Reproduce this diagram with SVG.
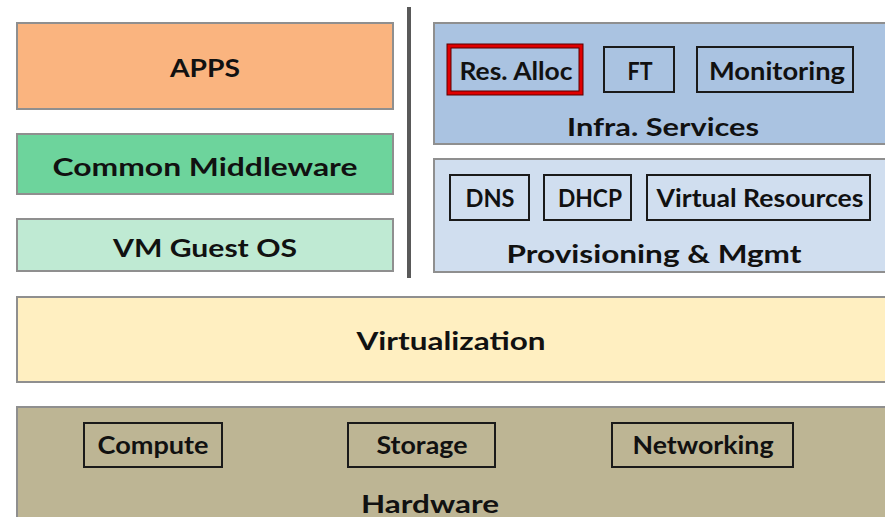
<svg xmlns="http://www.w3.org/2000/svg" width="885" height="517" viewBox="0 0 885 517">
<style>
text{font-family:Lato,"Open Sans","Liberation Sans",sans-serif;font-weight:bold;font-size:25px;fill:#111;text-anchor:middle}
.layer{stroke:#8f8f8f;stroke-width:2}
.box{fill:none;stroke:#1a1a1a;stroke-width:2}
</style>
<rect width="885" height="517" fill="#fff"/>
<g id="apps"><rect class="layer" x="17" y="23" width="376" height="86" fill="#FAB47F"/><text x="205" y="77" textLength="70" lengthAdjust="spacingAndGlyphs">APPS</text></g>
<g id="middleware"><rect class="layer" x="17" y="134" width="376" height="60" fill="#6DD49C"/><text x="205" y="176" textLength="305" lengthAdjust="spacingAndGlyphs">Common Middleware</text></g>
<g id="guestos"><rect class="layer" x="17" y="219" width="376" height="52" fill="#BFEAD3"/><text x="205" y="257" textLength="184" lengthAdjust="spacingAndGlyphs">VM Guest OS</text></g>
<g id="divider"><line x1="409" y1="7" x2="409" y2="278" stroke="#595959" stroke-width="4"/></g>
<g id="infra">
<rect class="layer" x="434" y="23" width="460" height="121" fill="#AAC3E1"/>
<text x="663" y="136" textLength="192" lengthAdjust="spacingAndGlyphs">Infra. Services</text>
</g>
<g id="resalloc"><rect x="449" y="46" width="132" height="47" fill="none" stroke="#5a0000" stroke-width="5"/><rect x="449" y="46" width="132" height="47" fill="none" stroke="#e00000" stroke-width="3"/><text x="516" y="80" textLength="113" lengthAdjust="spacingAndGlyphs">Res. Alloc</text></g>
<g id="ft"><rect class="box" x="604" y="47" width="70" height="45"/><text x="640" y="80" textLength="25" lengthAdjust="spacingAndGlyphs">FT</text></g>
<g id="monitoring"><rect class="box" x="697" y="47" width="156" height="45"/><text x="777" y="80" textLength="136" lengthAdjust="spacingAndGlyphs">Monitoring</text></g>
<g id="prov">
<rect class="layer" x="434" y="159" width="460" height="113" fill="#D0DEEF"/>
<text x="654" y="263" textLength="295" lengthAdjust="spacingAndGlyphs">Provisioning &amp; Mgmt</text>
</g>
<g id="dns"><rect class="box" x="450" y="175" width="79" height="45"/><text x="490" y="207" textLength="49" lengthAdjust="spacingAndGlyphs">DNS</text></g>
<g id="dhcp"><rect class="box" x="544" y="175" width="87" height="45"/><text x="590" y="207" textLength="64" lengthAdjust="spacingAndGlyphs">DHCP</text></g>
<g id="vres"><rect class="box" x="647" y="175" width="223" height="45"/><text x="760" y="207" textLength="207" lengthAdjust="spacingAndGlyphs">Virtual Resources</text></g>
<g id="virtualization"><rect class="layer" x="17" y="297" width="880" height="85" fill="#FFEFC1"/><text x="451" y="350" textLength="189" lengthAdjust="spacingAndGlyphs">Virtualization</text></g>
<g id="hardware">
<rect class="layer" x="17" y="407" width="880" height="120" fill="#BDB594"/>
<text x="430" y="513" textLength="138" lengthAdjust="spacingAndGlyphs">Hardware</text>
</g>
<g id="compute"><rect class="box" x="84" y="423" width="138" height="44"/><text x="153" y="454" textLength="111" lengthAdjust="spacingAndGlyphs">Compute</text></g>
<g id="storage"><rect class="box" x="348" y="423" width="147" height="44"/><text x="422" y="454" textLength="91" lengthAdjust="spacingAndGlyphs">Storage</text></g>
<g id="networking"><rect class="box" x="612" y="423" width="181" height="44"/><text x="703" y="454" textLength="141" lengthAdjust="spacingAndGlyphs">Networking</text></g>
<g id="connectors"></g>
</svg>
